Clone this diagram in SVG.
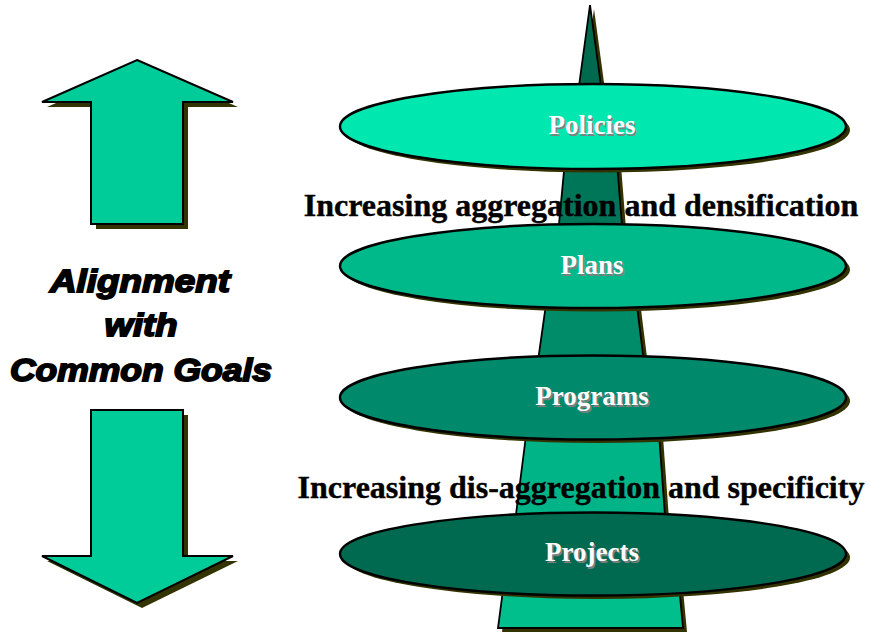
<svg xmlns="http://www.w3.org/2000/svg" width="871" height="632" viewBox="0 0 871 632">
  <style>
    .shadow { fill: #333300; }
    .edge { stroke: #000000; stroke-width: 2; stroke-linejoin: miter; }
    .seg { stroke: #000000; stroke-width: 1.8; }
    .oval { stroke: #000000; stroke-width: 2.4; }
    .label { font-family: "Liberation Serif", "Times New Roman", serif; font-weight: bold; font-size: 27px; text-anchor: middle; }
    .label-shade { fill: #7f7f7f; }
    .label-main { fill: #ffffff; }
    .caption { font-family: "Liberation Serif", "Times New Roman", serif; font-weight: bold; font-size: 32px; fill: #000000; stroke: #000000; stroke-width: 0.4; text-anchor: middle; }
    .motto { font-family: "Liberation Sans", Arial, sans-serif; font-weight: bold; font-style: italic; font-size: 32px; fill: #000000; stroke: #000000; stroke-width: 1.8; text-anchor: middle; }
  </style>

  <rect width="871" height="632" fill="#ffffff"/>

  <!-- Left-hand direction arrows -->
  <g id="arrow-up">
    <polygon class="shadow" transform="translate(5,5)" points="137,60 233,102 183,102 183,224 91,224 91,102 42,102"/>
    <polygon class="edge" fill="#00cc99" points="137,60 233,102 183,102 183,224 91,224 91,102 42,102"/>
  </g>
  <g id="arrow-down">
    <polygon class="shadow" transform="translate(5,5)" points="91,410 183,410 183,556 233,556 137,603 42,556 91,556"/>
    <polygon class="edge" fill="#00cc99" points="91,410 183,410 183,556 233,556 137,603 42,556 91,556"/>
  </g>

  <g id="motto">
    <text class="motto" x="140" y="292" textLength="180" lengthAdjust="spacingAndGlyphs">Alignment</text>
    <text class="motto" x="141" y="336" textLength="73" lengthAdjust="spacingAndGlyphs">with</text>
    <text class="motto" x="141" y="381" textLength="262" lengthAdjust="spacingAndGlyphs">Common Goals</text>
  </g>

  <!-- Central tapering column, one trapezoid per level -->
  <g id="column">
    <polygon class="shadow" transform="translate(4,4)" points="590,5 607,130 573,130"/>
    <polygon class="seg" fill="#006a4e" points="590,5 607,130 573,130"/>

    <polygon class="shadow" transform="translate(4,3)" points="566,150 616,150 623.5,245 557,245"/>
    <polygon class="seg" fill="#007658" points="566,150 616,150 623.5,245 557,245"/>

    <polygon class="shadow" transform="translate(4,3)" points="548,290 635,290 645.5,375 536,375"/>
    <polygon class="seg" fill="#008c69" points="548,290 635,290 645.5,375 536,375"/>

    <polygon class="shadow" transform="translate(4,3)" points="528,420 658,420 666,530 514,530"/>
    <polygon class="seg" fill="#00b487" points="528,420 658,420 666,530 514,530"/>

    <polygon class="shadow" transform="translate(4,4)" points="505,575 678,575 683,628 498,628"/>
    <polygon class="seg" fill="#00bf8c" points="505,575 678,575 683,628 498,628"/>
  </g>

  <g id="captions">
    <text class="caption" x="581" y="216">Increasing aggregation and densification</text>
    <text class="caption" x="581" y="498">Increasing dis-aggregation and specificity</text>
  </g>

  <!-- Level ovals -->
  <g id="policies">
    <ellipse class="shadow" cx="597" cy="130" rx="253" ry="42.5"/>
    <ellipse class="oval" fill="#00e8b0" cx="593" cy="126.5" rx="253" ry="42.5"/>
    <text class="label label-shade" x="593.5" y="135.5">Policies</text>
    <text class="label label-main" x="592" y="134">Policies</text>
  </g>
  <g id="plans">
    <ellipse class="shadow" cx="597" cy="269.5" rx="253" ry="42"/>
    <ellipse class="oval" fill="#00b98a" cx="593" cy="266" rx="253" ry="42"/>
    <text class="label label-shade" x="593.5" y="275.5">Plans</text>
    <text class="label label-main" x="592" y="274">Plans</text>
  </g>
  <g id="programs">
    <ellipse class="shadow" cx="597" cy="401" rx="253" ry="42"/>
    <ellipse class="oval" fill="#00896a" cx="593" cy="397.5" rx="253" ry="42"/>
    <text class="label label-shade" x="593.5" y="406.5">Programs</text>
    <text class="label label-main" x="592" y="405">Programs</text>
  </g>
  <g id="projects">
    <ellipse class="shadow" cx="597" cy="557.5" rx="253" ry="41.5"/>
    <ellipse class="oval" fill="#006a50" cx="593" cy="554" rx="253" ry="41.5"/>
    <text class="label label-shade" x="593.5" y="562.5">Projects</text>
    <text class="label label-main" x="592" y="561">Projects</text>
  </g>

  <g id="connectors"/>
</svg>
